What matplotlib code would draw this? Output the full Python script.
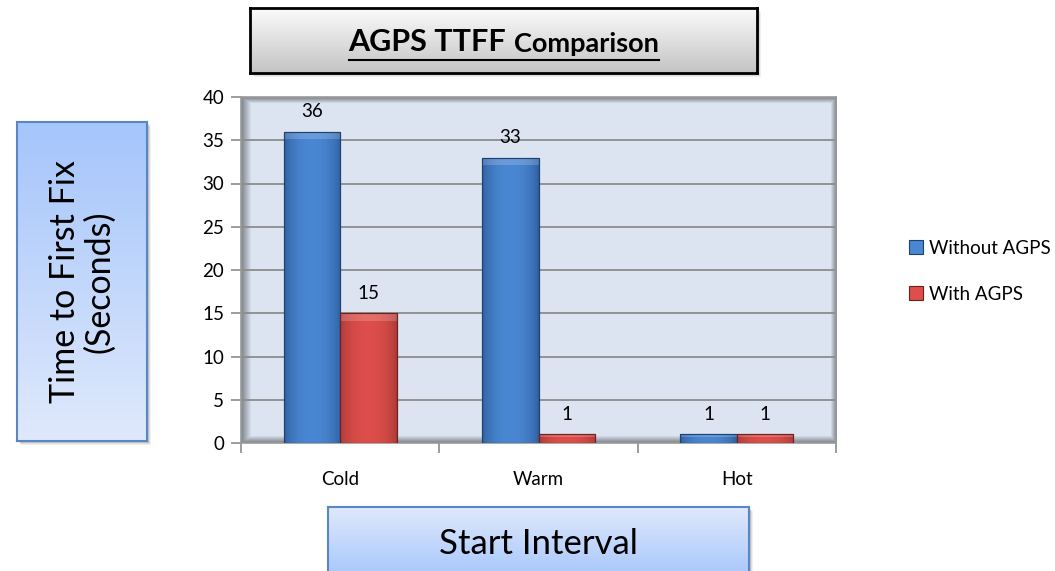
import numpy as np
import matplotlib.pyplot as plt
from matplotlib.patches import Rectangle
from matplotlib.colors import to_rgb

# data
categories = ['Cold', 'Warm', 'Hot']
without_agps = [36, 33, 1]
with_agps = [15, 1, 1]
series_names = ['Without AGPS', 'With AGPS']

plt.rcParams['font.family'] = ['Lato', 'DejaVu Sans']

W, H = 1055, 571
fig = plt.figure(figsize=(W / 100, H / 100), dpi=100)


def px_axes(x0, y0, x1, y1, **kw):
    # axes from pixel box (top-left origin)
    return fig.add_axes([x0 / W, 1 - y1 / H, (x1 - x0) / W, (y1 - y0) / H], **kw)


def gradient_box(x0, y0, x1, y1, top, bottom, edge, lw=1.5):
    # soft shadow behind the box
    for k, a in [(4, 0.06), (3, 0.08), (2, 0.12)]:
        fig.patches.append(Rectangle(((x0 + k) / W, 1 - (y1 + k) / H), (x1 - x0) / W, (y1 - y0) / H,
                                     transform=fig.transFigure, facecolor='black', alpha=a,
                                     edgecolor='none', zorder=-5))
    bax = px_axes(x0, y0, x1, y1)
    bax.set_zorder(5)
    t = np.linspace(0, 1, 100)[:, None, None]
    img = np.array(to_rgb(top)) * (1 - t) + np.array(to_rgb(bottom)) * t
    img = np.repeat(img, 2, axis=1)
    bax.imshow(img, aspect='auto', extent=[0, 1, 0, 1], origin='upper')
    bax.set_xticks([])
    bax.set_yticks([])
    for s in bax.spines.values():
        s.set_edgecolor(edge)
        s.set_linewidth(lw)
    return bax


# plot area
ax = px_axes(241, 97, 836, 443)
ax.set_xlim(0, 3)
ax.set_ylim(0, 40)

# background with darker walls
ny, nx = 346, 595
yy, xx = np.mgrid[0:ny, 0:nx]
base = np.array([0.86, 0.895, 0.945])
dark = np.array([0.50, 0.52, 0.55])
edge_w = np.clip(1 - np.minimum.reduce([xx / 10.0, (nx - 1 - xx) / 6.0, yy / 6.0, (ny - 1 - yy) / 7.0]), 0, 1)
bg = base * (1 - edge_w[..., None]) + dark * edge_w[..., None]
ax.imshow(bg, aspect='auto', extent=[0, 3, 0, 40], origin='upper', zorder=0)

ax.set_yticks(np.arange(0, 41, 5))
ax.yaxis.grid(True, color='#8c8c8c', linewidth=1.3, zorder=1)
ax.set_axisbelow(True)
ax.set_xticks([0, 1, 2, 3])
ax.set_xticklabels([])
ax.set_xticks([0.5, 1.5, 2.5], minor=True)
ax.set_xticklabels(categories, minor=True)
ax.tick_params(axis='x', which='minor', length=0, pad=20, labelsize=13.5)
ax.tick_params(axis='x', which='major', length=7, color='#8c8c8c', width=1.2)
ax.tick_params(axis='y', length=7, color='#8c8c8c', width=1.2, labelsize=13.5, pad=5)
for s in ax.spines.values():
    s.set_edgecolor('#9a9a9a')
    s.set_linewidth(1.2)

x = np.arange(len(categories)) + 0.5
bw = 0.285
styles = [('#2d5d9c', '#4a87d3', '#1f3f6e'), ('#a83a37', '#de4e4a', '#6e2220')]
for i, (vals, name) in enumerate(zip([without_agps, with_agps], series_names)):
    dark_c, light_c, ec = styles[i]
    pos = x + (i - 0.5) * bw
    bars = ax.bar(pos, vals, width=bw, color=light_c, edgecolor=ec, linewidth=0.8, zorder=3, label=name)
    cd = np.array(to_rgb(dark_c))
    cl = np.array(to_rgb(light_c))
    s = np.linspace(0, 1, 60)
    f = np.sin(np.pi * s) ** 0.6
    grad = (cd * (1 - f[:, None]) + cl * f[:, None])[None, :, :]
    for b, v in zip(bars, vals):
        im = ax.imshow(grad, aspect='auto', extent=[b.get_x(), b.get_x() + bw, 0, v], zorder=3.5)
        im.set_clip_path(b)
        # bevel on top
        bev = min(0.9, v * 0.35)
        ax.add_patch(Rectangle((b.get_x(), v - bev), bw, bev, facecolor='white', alpha=0.18,
                               edgecolor='none', zorder=3.6))
        ax.add_patch(Rectangle((b.get_x(), 0), bw, v, facecolor='none', edgecolor=ec, linewidth=0.8,
                               zorder=3.7))
        ax.annotate(str(v), (b.get_x() + bw / 2, v), xytext=(0, 8), textcoords='offset points',
                    ha='center', va='bottom', fontsize=13.5, zorder=5)

# title box
tb = gradient_box(250, 8, 757, 73, '#fbfbfb', '#c4c4c4', 'black', lw=2)
t1 = tb.text(0.24, 0.47, 'AGPS TTFF ', transform=tb.transAxes, ha='left', va='center',
             fontsize=22, fontweight='bold')
fig.canvas.draw()
bb1 = t1.get_window_extent().transformed(tb.transAxes.inverted())
t2 = tb.text(bb1.x1, 0.45, 'Comparison', transform=tb.transAxes, ha='left', va='center',
             fontsize=19.5, fontweight='bold')
fig.canvas.draw()
bb2 = t2.get_window_extent().transformed(tb.transAxes.inverted())
# center the pair, then underline
shift = 0.5 - (bb1.x0 + bb2.x1) / 2
t1.set_x(t1.get_position()[0] + shift)
t2.set_x(t2.get_position()[0] + shift)
tb.plot([bb1.x0 + shift, bb2.x1 + shift], [0.2, 0.2], color='black', linewidth=1.5,
        transform=tb.transAxes)

# y label box
yb = gradient_box(17, 122, 147, 441, '#a5c5fb', '#dfe9fc', '#5a86c2', lw=1.5)
yb.text(0.5, 0.5, 'Time to First Fix\n(Seconds)', transform=yb.transAxes, ha='center',
        va='center', rotation=90, fontsize=24.5, linespacing=1.1)

# x label box
xb = gradient_box(328, 507, 749, 580, '#dfe9fc', '#a5c5fb', '#5a86c2', lw=1.5)
xb.text(0.5, 0.5, 'Start Interval', transform=xb.transAxes, ha='center', va='center',
        fontsize=25)

# legend
leg = ax.legend(loc='center left', bbox_to_anchor=(1.11, 0.497), frameon=False,
                fontsize=13.5, labelspacing=1.55, handlelength=0.75, handleheight=0.75,
                handletextpad=0.3, borderaxespad=0)

fig.savefig('out.png', dpi=100)
